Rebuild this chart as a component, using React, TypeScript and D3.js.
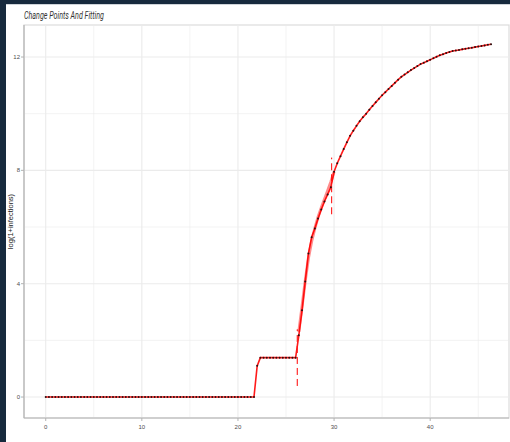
import React from "react";
import * as d3 from "d3";

const W = 510;
const H = 442;

const TITLE = "Change Points And Fitting";
const Y_LABEL = "log(1+infections)";
const X_TICKS = [0, 10, 20, 30, 40];
const X_MINOR = [5, 15, 25, 35, 45];
const Y_TICKS = [0, 4, 8, 12];
const Y_MINOR = [2, 6, 10];

// one sample every 8 hours (1/3 day), values are log(1+infections)
const SAMPLES_PER_DAY = 3;
const LOG_INFECTIONS = [
  0, 0, 0, 0, 0, 0, 0, 0, 0, 0, 0, 0, 0, 0, 0, 0, 0, 0, 0, 0, 0, 0,
  0, 0, 0, 0, 0, 0, 0, 0, 0, 0, 0, 0, 0, 0, 0, 0, 0, 0, 0, 0, 0, 0,
  0, 0, 0, 0, 0, 0, 0, 0, 0, 0, 0, 0, 0, 0, 0, 0, 0, 0, 0, 0, 0, 0,
  1.1,
  1.39, 1.39, 1.39, 1.39, 1.39, 1.39, 1.39, 1.39, 1.39, 1.39, 1.39, 1.39,
  2.18, 3.06, 4.08, 5.07, 5.64, 5.95, 6.3, 6.62, 6.9, 7.15, 7.4,
  7.95, 8.25, 8.5, 8.75, 8.99, 9.22, 9.4, 9.57, 9.73, 9.87,
  10.0, 10.14, 10.27, 10.4, 10.53, 10.65, 10.76, 10.87, 10.98, 11.09,
  11.2, 11.3, 11.38, 11.46, 11.54, 11.61, 11.68, 11.75, 11.8, 11.85,
  11.9, 11.96, 12.01, 12.06, 12.1, 12.14, 12.18, 12.21, 12.23, 12.25,
  12.27, 12.29, 12.31, 12.33, 12.35, 12.37, 12.39, 12.41, 12.43, 12.45,
];

// detected change points (day, level) and the fitted segment between them
const CHANGE_DAYS = [26.17, 29.75];
const CHANGE_LEVELS = [1.39, 7.45];
const FIT_DAYS = [26.33, 26.67, 27, 27.33, 27.67, 28, 28.33, 28.67, 29, 29.33, 29.67, 30];
const FIT_VALUES = [2.3, 3.2, 4.1, 4.9, 5.5, 5.95, 6.35, 6.68, 6.98, 7.28, 7.6, 7.95];

const PANEL = { left: 24, right: 509, top: 25, bottom: 418 };
const GRID = "#ebebeb";
const AXIS = "#b3b3b3";
const TXT = "#4d4d4d";

export default function App() {
  const x = d3.scaleLinear().domain([-2.26, 48.2]).range([PANEL.left, PANEL.right]);
  const y = d3.scaleLinear().domain([-0.74, 13.13]).range([PANEL.bottom, PANEL.top]);

  const pts = LOG_INFECTIONS.map((v, i) => [i / SAMPLES_PER_DAY, v] as [number, number]);
  const path = d3
    .line<[number, number]>()
    .x((d) => x(d[0]))
    .y((d) => y(d[1]));
  const fitPts = FIT_DAYS.map((d, i) => [d, FIT_VALUES[i]] as [number, number]);

  return (
    <div style={{ position: "fixed", left: 0, top: 0 }}>
      <svg width={W} height={H} style={{ display: "block" }}>
        <rect width={W} height={H} fill="#ffffff" />
        <rect x={0} y={0} width={W} height={4} fill="#172a3d" />
        <rect x={0} y={0} width={6} height={H} fill="#172a3d" />
        <line x1={6} x2={W} y1={4.5} y2={4.5} stroke="#cfd4d9" />

        <text
          x={PANEL.left}
          y={19}
          fontFamily="Roboto, sans-serif"
          fontStyle="italic"
          fontSize={10}
          fill="#333"
          textLength={80}
          lengthAdjust="spacingAndGlyphs"
        >
          {TITLE}
        </text>

        <rect
          x={PANEL.left}
          y={PANEL.top}
          width={PANEL.right - PANEL.left}
          height={PANEL.bottom - PANEL.top}
          fill="none"
          stroke="#dcdcdc"
          strokeWidth={1.2}
        />

        {X_MINOR.map((t) => (
          <line key={"xm" + t} x1={x(t)} x2={x(t)} y1={PANEL.top} y2={PANEL.bottom} stroke={GRID} strokeWidth={0.6} />
        ))}
        {Y_MINOR.map((t) => (
          <line key={"ym" + t} x1={PANEL.left} x2={PANEL.right} y1={y(t)} y2={y(t)} stroke={GRID} strokeWidth={0.6} />
        ))}
        {X_TICKS.map((t) => (
          <line key={"xg" + t} x1={x(t)} x2={x(t)} y1={PANEL.top} y2={PANEL.bottom} stroke={GRID} strokeWidth={1.1} />
        ))}
        {Y_TICKS.map((t) => (
          <line key={"yg" + t} x1={PANEL.left} x2={PANEL.right} y1={y(t)} y2={y(t)} stroke={GRID} strokeWidth={1.1} />
        ))}

        <line x1={PANEL.left} x2={PANEL.left} y1={PANEL.top} y2={PANEL.bottom} stroke={AXIS} strokeWidth={1.2} />
        <line x1={PANEL.left} x2={PANEL.right} y1={PANEL.bottom} y2={PANEL.bottom} stroke={AXIS} strokeWidth={1.2} />

        {Y_TICKS.map((t) => (
          <g key={"yt" + t}>
            <line x1={PANEL.left - 3} x2={PANEL.left} y1={y(t)} y2={y(t)} stroke={AXIS} />
            <text
              x={PANEL.left - 4}
              y={y(t)}
              dy="0.35em"
              textAnchor="end"
              fontFamily="Liberation Sans, sans-serif"
              fontSize={6}
              fill={TXT}
            >
              {t}
            </text>
          </g>
        ))}
        {X_TICKS.map((t) => (
          <g key={"xt" + t}>
            <line x1={x(t)} x2={x(t)} y1={PANEL.bottom} y2={PANEL.bottom + 3} stroke={AXIS} />
            <text
              x={x(t)}
              y={PANEL.bottom + 11}
              textAnchor="middle"
              fontFamily="Liberation Sans, sans-serif"
              fontSize={6}
              fill={TXT}
            >
              {t}
            </text>
          </g>
        ))}

        <text
          transform={`translate(13,${(PANEL.top + PANEL.bottom) / 2}) rotate(-90)`}
          textAnchor="middle"
          fontFamily="Liberation Sans, sans-serif"
          fontSize={7.5}
          fill="#222"
        >
          {Y_LABEL}
        </text>

        {CHANGE_DAYS.map((d, i) => (
          <line
            key={"cp" + i}
            x1={x(d)}
            x2={x(d)}
            y1={y(CHANGE_LEVELS[i] - 1)}
            y2={y(CHANGE_LEVELS[i] + 1)}
            stroke="#ff0000"
            strokeWidth={1}
            strokeDasharray="7,4"
          />
        ))}

        <path d={path(pts) ?? ""} fill="none" stroke="#ff1a1a" strokeWidth={1.6} />
        <path d={path(fitPts) ?? ""} fill="none" stroke="#ff0000" strokeWidth={3} strokeOpacity={0.45} />
        {pts.map((p, i) => (
          <circle key={i} cx={x(p[0])} cy={y(p[1])} r={1} fill="#2a1010" />
        ))}
      </svg>
    </div>
  );
}
